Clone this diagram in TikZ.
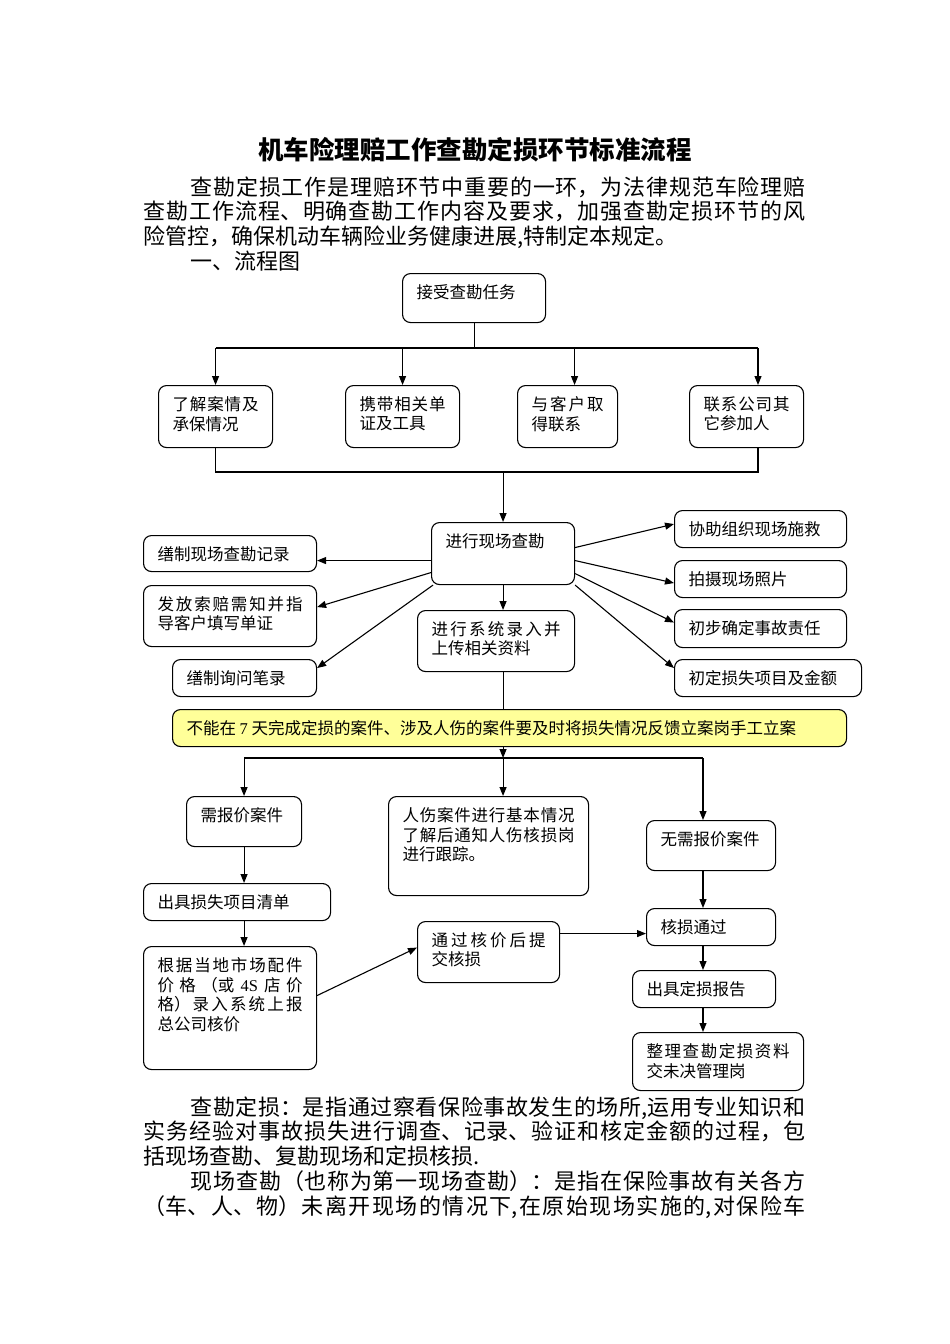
\documentclass[tikz,border=0pt]{standalone}
\usepackage{fontspec}
\setmainfont{Noto Sans CJK SC}
\newfontfamily\latinfont{Liberation Serif}
\usetikzlibrary{arrows.meta}

\XeTeXlinebreaklocale "zh"
\XeTeXlinebreakskip=0pt plus 4pt
\tolerance=9000

\definecolor{notefill}{HTML}{FFFF99}
\newcommand{\boxtext}[3]{\parbox[c][\dimexpr#2pt-22pt\relax][t]{\dimexpr#1pt-28pt\relax}{#3}}

\begin{document}
\begin{tikzpicture}[x=1pt, y=-1pt, line width = 1.1pt,
  box/.style={draw, rounded corners=8pt, anchor=north west, inner xsep=14pt, inner ysep=11pt,
    font=\fontsize{16.5}{19.5}\selectfont},
  note/.style={box, fill=notefill},
  arr/.style={-{Triangle[length=9pt,width=7pt]}},
  para/.style={anchor=north west, inner sep=0pt, text width=662pt, align=justify,
    font=\fontsize{22}{24.8}\selectfont}]

\useasboundingbox (0,0) rectangle (950,1344);

\node [font=\bfseries\fontsize{25.5}{30}\selectfont] (title) at (475,150) {机车险理赔工作查勘定损环节标准流程};

\node [para] (intro) at (143,176) {\noindent\hspace*{47pt}查勘定损工作是理赔环节中重要的一环，为法律规范车险理赔\linebreak
查勘工作流程、明确查勘工作内容及要求，加强查勘定损环节的风\linebreak
险管控，确保机动车辆险业务健康进展,特制定本规定。\par
\noindent\hspace*{47pt}一、流程图};

\node [box] (accept) at (402,273) {\boxtext{143}{49}{接受查勘任务}};

\node [box] (know) at (158,385) {\boxtext{114}{62}{了解案情及\linebreak 承保情况}};
\node [box] (carry) at (345,385) {\boxtext{114}{62}{携带相关单\linebreak 证及工具}};
\node [box] (contact) at (517,385) {\boxtext{100}{62}{与客户取\linebreak 得联系}};
\node [box] (other) at (689,385) {\boxtext{114}{62}{联系公司其\linebreak 它参加人}};

\node [box] (survey) at (431,522) {\boxtext{143}{62}{进行现场查勘}};
\node [box] (record) at (143,535) {\boxtext{173}{36}{缮制现场查勘记录}};
\node [box] (notice) at (143,585) {\boxtext{173}{61}{发放索赔需知并指\linebreak 导客户填写单证}};
\node [box] (inquiry) at (172,659) {\boxtext{144}{37}{缮制询问笔录}};
\node [box] (system) at (417,610) {\boxtext{157}{61}{进行系统录入并\linebreak 上传相关资料}};
\node [box] (rescue) at (674,510) {\boxtext{172}{37}{协助组织现场施救}};
\node [box] (photo) at (674,560) {\boxtext{172}{37}{拍摄现场照片}};
\node [box] (resp) at (674,609) {\boxtext{172}{38}{初步确定事故责任}};
\node [box] (loss) at (674,659) {\boxtext{187}{37}{初定损失项目及金额}};

\node [note] (notify) at (172,709) {\boxtext{674}{37}{不能在 {\latinfont 7} 天完成定损的案件、涉及人伤的案件要及时将损失情况反馈立案岗手工立案}};

\node [box] (quote) at (186,796) {\boxtext{115}{50}{需报价案件}};
\node [box] (injury) at (388,796) {\boxtext{200}{99}{人伤案件进行基本情况\linebreak 了解后通知人伤核损岗\linebreak 进行跟踪。}};
\node [box] (noquote) at (646,820) {\boxtext{129}{50}{无需报价案件}};
\node [box] (list) at (143,883) {\boxtext{187}{37}{出具损失项目清单}};
\node [box] (verify) at (646,908) {\boxtext{129}{37}{核损通过}};
\node [box] (price) at (417,921) {\boxtext{142}{61}{通过核价后提\linebreak 交核损}};
\node [box] (report) at (632,970) {\boxtext{143}{37}{出具定损报告}};
\node [box] (enter) at (143,946) {\boxtext{173}{123}{根据当地市场配件\linebreak 价格（或 {\latinfont 4S} 店价\linebreak 格）录入系统上报\linebreak 总公司核价}};
\node [box] (archive) at (632,1032) {\boxtext{171}{58}{整理查勘定损资料\linebreak 交未决管理岗}};

\node [para] (defn) at (143,1096) {\noindent\hspace*{47pt}查勘定损：是指通过察看保险事故发生的场所,运用专业知识和\linebreak
实务经验对事故损失进行调查、记录、验证和核定金额的过程，包\linebreak
括现场查勘、复勘现场和定损核损.\par
\noindent\hspace*{47pt}现场查勘（也称为第一现场查勘）：是指在保险事故有关各方\linebreak
（车、人、物）未离开现场的情况下,在原始现场实施的,对保险车{\parfillskip=0pt\par}};

% fork to the four preparations
\coordinate (fork1) at (accept.south |- 0,348);
\coordinate (fork1r) at (758,348);
\coordinate (cshift) at ([xshift=7pt]contact.north);
\draw (accept.south) -- (fork1);
\draw (know.north |- fork1) -- (fork1r);
\draw[arr] (know.north |- fork1) -- (know.north);
\draw[arr] (carry.north |- fork1) -- (carry.north);
\draw[arr] (cshift |- fork1) -- (cshift);
\draw[arr] (fork1r) -- (fork1r |- other.north);

\coordinate (join1) at (survey.north |- 0,472);
\draw (know.south) -- (know.south |- join1) -- (fork1r |- join1) -- (fork1r |- other.south);
\draw[arr] (join1) -- (survey.north);

% on the spot
\draw[arr] ([yshift=-7pt]survey.west) -- ([yshift=-7pt]survey.west -| record.east);
\draw[arr] ([yshift=-19pt]survey.west) -- ([yshift=9pt]notice.east);
\draw[arr] ([xshift=2pt]survey.south west) -- ([yshift=10pt]inquiry.east);
\draw[arr] (survey.south) -- (survey.south |- system.north);
\draw[arr] ([yshift=6pt]survey.east) -- ([yshift=5pt]rescue.west);
\draw[arr] ([yshift=-7pt]survey.east) -- ([yshift=-4pt]photo.west);
\draw[arr] ([yshift=-20pt]survey.east) -- ([yshift=6pt]resp.west);
\draw[arr] (survey.south east) -- ([yshift=10pt]loss.west);

\draw (survey.south |- system.south) -- (survey.south |- notify.north);

% three kinds of cases
\coordinate (fork2) at (survey.south |- 0,758);
\coordinate (fork2r) at (703,758);
\draw[arr] (survey.south |- notify.south) -- (fork2);
\draw (quote.north |- fork2) -- (fork2r);
\draw[arr] (quote.north |- fork2) -- (quote.north);
\draw[arr] (fork2) -- (fork2 |- injury.north);
\draw[arr] (fork2r) -- (fork2r |- noquote.north);

\draw[arr] (quote.south) -- (quote.south |- list.north);
\draw[arr] (quote.south |- list.south) -- (quote.south |- enter.north);
\draw[arr] ([yshift=12.5pt]enter.east) -- ([yshift=4.5pt]price.west);
\draw[arr] ([yshift=18.5pt]price.east) -- ([yshift=18.5pt]price.east -| verify.west);

\draw[arr] (fork2r |- noquote.south) -- (fork2r |- verify.north);
\draw[arr] (fork2r |- verify.south) -- (fork2r |- report.north);
\draw[arr] (fork2r |- report.south) -- (fork2r |- archive.north);

\end{tikzpicture}
\end{document}
